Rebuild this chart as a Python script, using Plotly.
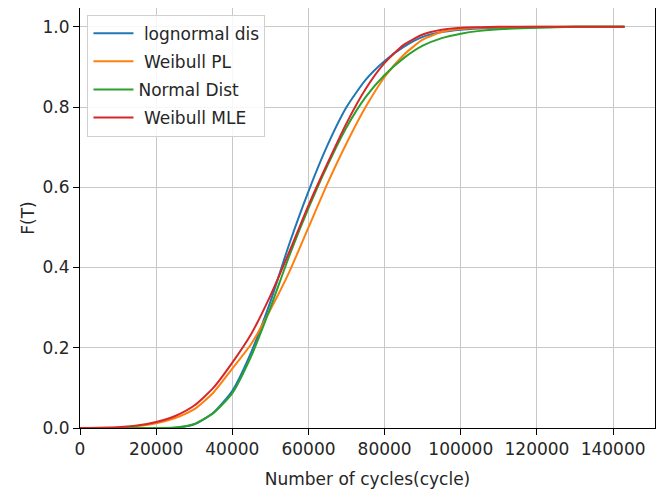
import plotly.graph_objects as go

# cycles (x grid)
cycles = [0, 10000, 15000, 20000, 25000, 30000, 35000, 40000, 45000, 50000,
          55000, 60000, 65000, 70000, 75000, 80000, 85000, 90000, 95000,
          100000, 105000, 110000, 120000, 130000, 143000]

lognormal_dis = [0, 0, 0, 0, 0.0006, 0.009, 0.038, 0.093, 0.19, 0.315,
                 0.46, 0.59, 0.705, 0.80, 0.868, 0.915, 0.95, 0.975, 0.987,
                 0.993, 0.996, 0.998, 0.999, 1.0, 1.0]
weibull_pl = [0, 0.0015, 0.005, 0.012, 0.025, 0.047, 0.088, 0.148, 0.21, 0.295,
              0.39, 0.50, 0.61, 0.71, 0.80, 0.875, 0.93, 0.968, 0.987,
              0.995, 0.998, 0.999, 1.0, 1.0, 1.0]
normal_dist = [0, 0, 0, 0, 0.001, 0.01, 0.037, 0.087, 0.18, 0.30,
               0.43, 0.548, 0.655, 0.75, 0.825, 0.88, 0.922, 0.953, 0.972,
               0.983, 0.99, 0.994, 0.998, 1.0, 1.0]
weibull_mle = [0, 0.002, 0.006, 0.015, 0.03, 0.056, 0.10, 0.163, 0.235, 0.33,
               0.44, 0.555, 0.66, 0.76, 0.845, 0.91, 0.955, 0.981, 0.993,
               0.998, 0.999, 1.0, 1.0, 1.0, 1.0]

names = ["\u00a0lognormal dis", "\u00a0Weibull PL", "Normal Dist", "\u00a0Weibull MLE"]
series = [lognormal_dis, weibull_pl, normal_dist, weibull_mle]
colors = ["#1f77b4", "#ff7f0e", "#2ca02c", "#d62728"]

x_ticks = [0, 20000, 40000, 60000, 80000, 100000, 120000, 140000]
y_ticks = [0.0, 0.2, 0.4, 0.6, 0.8, 1.0]

FONT = "DejaVu Sans"
FS = 17
TXT = "#262626"

fig = go.Figure()
for i, (n, s, c) in enumerate(zip(names, series, colors)):
    fig.add_trace(go.Scatter(
        x=cycles, y=s, name=n, mode="lines",
        line=dict(color=c, width=2, shape="spline", smoothing=0.6),
        legendgroup=f"g{i}",
    ))

axis_common = dict(
    showline=True, mirror=True, linecolor="black", linewidth=1,
    ticks="outside", ticklen=6, tickcolor="black", tickwidth=1,
    showgrid=True, gridcolor="#c8c8c8", gridwidth=1,
    zeroline=False, automargin=False,
    tickfont=dict(family=FONT, size=FS, color=TXT),
)

fig.update_layout(
    width=657, height=488,
    margin=dict(l=72, r=10, t=0, b=68),
    paper_bgcolor="white", plot_bgcolor="white",
    font=dict(family=FONT, size=FS, color=TXT),
    showlegend=True,
    legend=dict(
        x=0.013, y=0.984, xanchor="left", yanchor="top",
        bgcolor="rgba(255,255,255,0.85)", bordercolor="#d0d0d0", borderwidth=1,
        font=dict(family=FONT, size=FS, color=TXT),
        tracegroupgap=3, itemwidth=40,
    ),
    xaxis=dict(
        range=[0, 151000], tickvals=x_ticks,
        ticktext=[str(v) for v in x_ticks],
        title=dict(text="Number of cycles(cycle)", standoff=14,
                   font=dict(family=FONT, size=FS, color=TXT)),
        **axis_common,
    ),
    yaxis=dict(
        range=[0, 1.047], tickvals=y_ticks,
        ticktext=[f"{v:.1f}" for v in y_ticks],
        title=dict(text="F(T)", standoff=3,
                   font=dict(family=FONT, size=FS, color=TXT)),
        **axis_common,
    ),
)

fig.write_html("out.html")
